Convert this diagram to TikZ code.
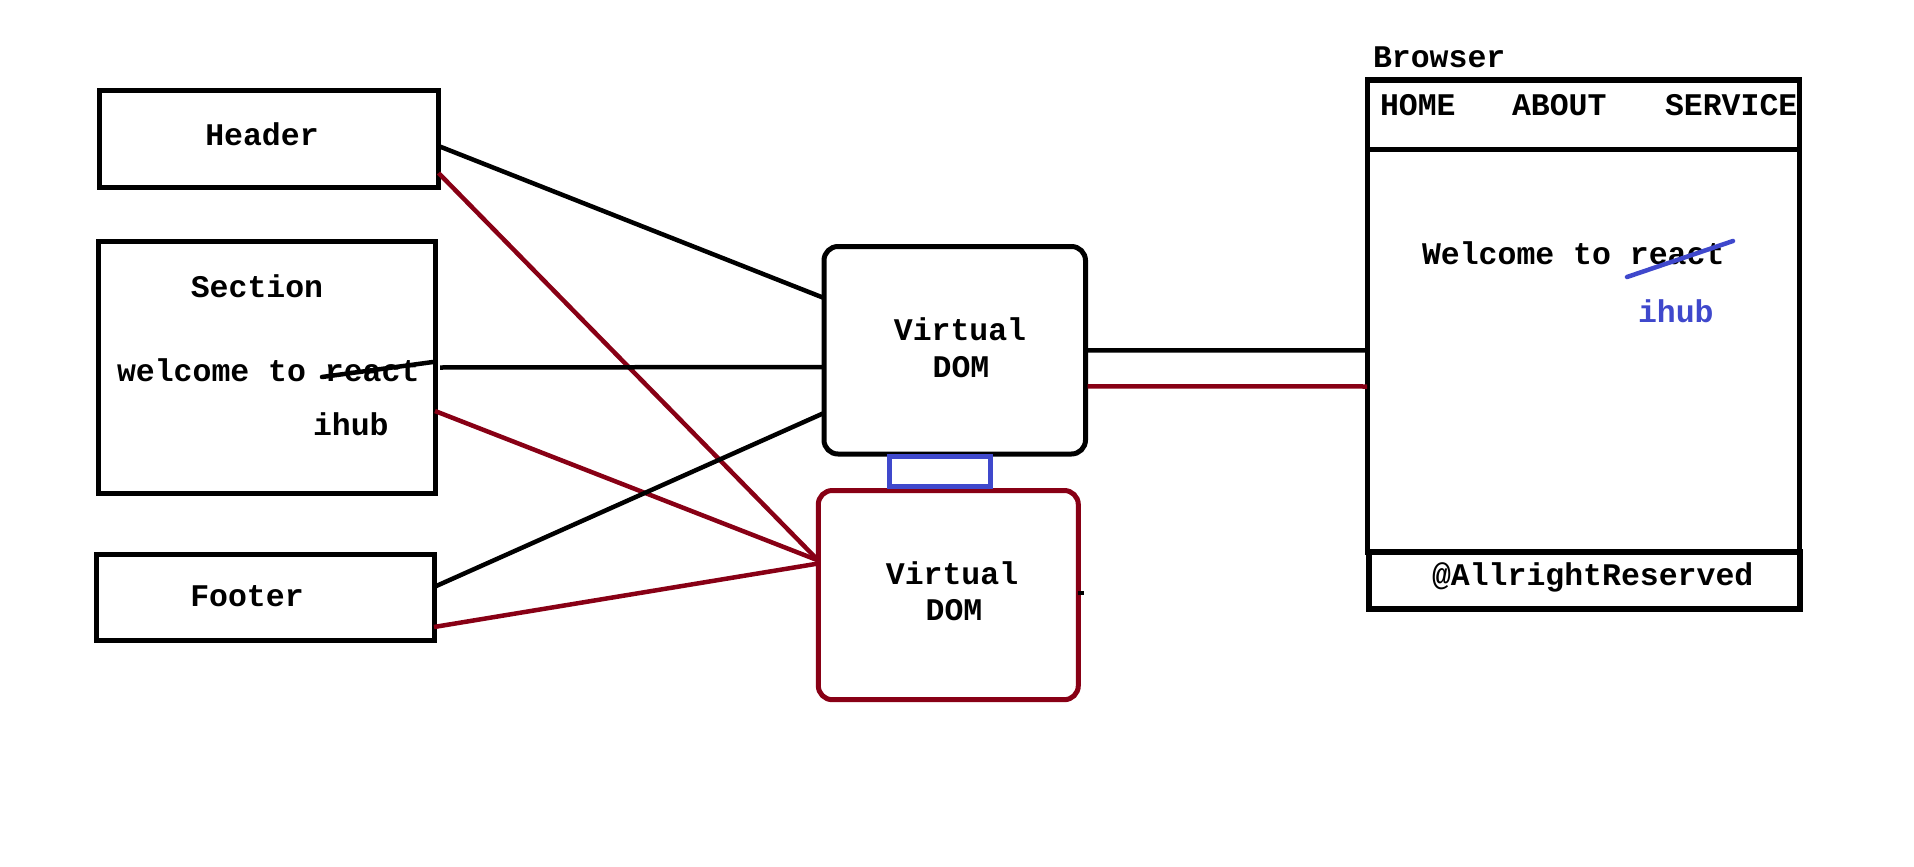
\documentclass[tikz,border=0pt]{standalone}
\usepackage{fontspec}
\setmonofont{Liberation Mono}
\usetikzlibrary{calc}
\definecolor{dred}{RGB}{136,0,21}
\definecolor{indigo}{RGB}{63,72,204}
\begin{document}
\begin{tikzpicture}[x=1pt,y=-1pt,
  box/.style={draw,line width=5pt,inner sep=0pt,outer sep=0pt,rectangle},
  vbox/.style={box,rounded corners=14pt},
  lbl/.style={inner sep=0pt,outer sep=0pt,font=\fontsize{31.5}{36}\selectfont\ttfamily\bfseries,anchor=base west},
  clbl/.style={lbl,anchor=base},
  conn/.style={line width=4.5pt},
  redconn/.style={conn,draw=dred},
  strike/.style={line width=4.5pt,line cap=round}]
\useasboundingbox (0,0) rectangle (1914,867);
% left boxes
\node[box,minimum width=339.5pt,minimum height=97pt] (hdr) at (268.75,139) {};
\node[box,minimum width=337pt,minimum height=252pt] (sec) at (266.5,367.5) {};
\node[box,minimum width=337.5pt,minimum height=85.5pt] (ftr) at (265.25,597.25) {};
% virtual doms
\node[vbox,minimum width=261.5pt,minimum height=207.5pt] (vd1) at (954.75,350.25) {};
\node[vbox,draw=dred,minimum width=260pt,minimum height=209.2pt] (vd2) at (948.3,595.1) {};
\node[box,draw=indigo,minimum width=101pt,minimum height=30pt] (link) at (940,471.5) {};
% browser
\node[box,minimum width=432pt,minimum height=69pt] (nav) at (1583,114.5) {};
\node[box,minimum width=432pt,minimum height=403pt] (body) at (1583,350.5) {};
\node[box,line width=6.5pt,minimum width=431pt,minimum height=57pt] (bfoot) at (1584.5,580.5) {};
% texts
\node[clbl] (thdr) at (262,145) {Header};
\node[clbl] (tsec) at (257,297) {Section};
\node[lbl] (twel) at (117,381) {welcome to react};
\node[lbl] (tihub) at (313,435) {ihub};
\node[clbl] (tftr) at (247,606) {Footer};
\node[clbl] (tv1a) at (960,340) {Virtual};
\node[clbl] (tv1b) at (961,377) {DOM};
\node[clbl] (tv2a) at (952,584) {Virtual};
\node[clbl] (tv2b) at (954,620) {DOM};
\node[lbl] (tbrw) at (1373,67) {Browser};
\node[lbl] (thome) at (1380,115) {HOME};
\node[lbl] (tabout) at (1512,115) {ABOUT};
\node[lbl] (tserv) at (1665,115) {SERVICE};
\node[lbl] (tbwel) at (1422,264) {Welcome to react};
\node[lbl,text=indigo] (tbihub) at (1638,322) {ihub};
\node[lbl] (tall) at (1432,585) {@AllrightReserved};
% strike-throughs
\draw[strike] (322,377) -- (433,362);
\draw[strike,draw=indigo] (1627,277) -- (1733,241);
% connectors
\draw[conn] ($(hdr.north east)+(0,55.5)$) -- ($(vd1.north west)+(0,51.5)$);
\draw[redconn] ($(hdr.north east)+(0,82.5)$) -- ($(vd2.north west)+(0,70)$);
\draw[conn] ($(sec.east)+(5,0)$) -- ($(vd1.north west)+(0,120.5)$);
\draw[redconn] ($(sec.north east)+(0,169.5)$) -- ($(vd2.north west)+(0,70)$);
\draw[conn] ($(ftr.north east)+(0,32.5)$) -- ($(vd1.north west)+(0,166.5)$);
\draw[redconn] ($(ftr.north east)+(0,72.5)$) -- ($(vd2.north west)+(0,73)$);
\draw[conn] (vd1.east) -- ($(body.west)+(2,0)$);
\draw[redconn] ($(vd1.east)+(2,36)$) -- ($(body.west)+(0,36)$);
\draw[line width=4pt] ($(vd2.east)+(0,-2)$) -- ++(6,0);
\end{tikzpicture}
\end{document}
